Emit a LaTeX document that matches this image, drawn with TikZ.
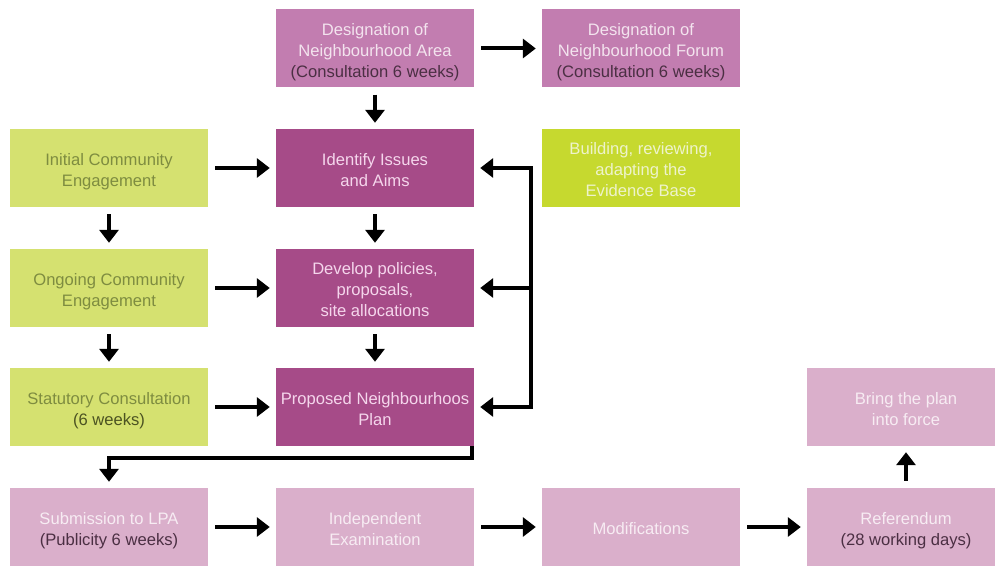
\documentclass[tikz,border=0pt]{standalone}
\usepackage{fontspec}
\setmainfont{Liberation Sans}
\usetikzlibrary{arrows.meta,calc}
\definecolor{pinkmid}{HTML}{C27DB0}
\definecolor{magdark}{HTML}{A64B88}
\definecolor{greenlt}{HTML}{D5E170}
\definecolor{greenbr}{HTML}{C6D92F}
\definecolor{pinklt}{HTML}{DAAFCB}
\definecolor{txtlight}{HTML}{F3E3EE}
\definecolor{txtmag}{HTML}{F5D6EC}
\definecolor{txtgreen}{HTML}{7E8C40}
\definecolor{txtgreendk}{HTML}{4C5322}
\definecolor{txtbuild}{HTML}{EEF3CC}
\definecolor{txtpink}{HTML}{F7ECF3}
\definecolor{txtdark}{HTML}{4B2F43}
\newcommand{\bxt}[1]{\raisebox{-3.5pt}[\height][\depth]{\begin{tabular}{@{}c@{}}#1\end{tabular}}}
\begin{document}
\begin{tikzpicture}[x=1pt,y=-1pt,
  box/.style={rectangle, minimum width=198pt, minimum height=78pt, inner sep=1pt,
    font=\fontsize{16.6}{21}\selectfont},
  bmid/.style={box, fill=pinkmid, text=txtlight},
  bdark/.style={box, fill=magdark, text=txtmag},
  bgreen/.style={box, fill=greenlt, text=txtgreen},
  bbuild/.style={box, fill=greenbr, text=txtbuild},
  bpink/.style={box, fill=pinklt, text=txtpink},
  arr/.style={line width=4pt, -{Triangle[length=13pt,width=19pt]}, shorten <=7pt, shorten >=6pt},
  fbline/.style={line width=4pt},
]
\useasboundingbox (0,0) rectangle (995,569);
\clip (0,0) rectangle (995,569);
% row 0
\node[bmid] (area) at (375,48.5) {\bxt{Designation of\\Neighbourhood Area\\\textcolor{txtdark}{(Consultation 6 weeks)}}};
\node[bmid] (forum) at (641,48.5) {\bxt{Designation of\\Neighbourhood Forum\\\textcolor{txtdark}{(Consultation 6 weeks)}}};
% row 1
\node[bgreen] (initial) at (109,168) {\bxt{Initial Community\\Engagement}};
\node[bdark] (identify) at (375,168) {\bxt{Identify Issues\\and Aims}};
\node[bbuild] (build) at (641,168) {\bxt{Building, reviewing,\\adapting the\\Evidence Base}};
% row 2
\node[bgreen] (ongoing) at (109,288) {\bxt{Ongoing Community\\Engagement}};
\node[bdark] (develop) at (375,288) {\bxt{Develop policies,\\proposals,\\site allocations}};
% row 3
\node[bgreen] (statutory) at (109,407) {\bxt{Statutory Consultation\\\textcolor{txtgreendk}{(6 weeks)}}};
\node[bdark] (proposed) at (375,407) {\bxt{Proposed Neighbourhoos\\Plan}};
\node[bpink] (force) at (906,407) {\bxt{Bring the plan\\into force}};
% row 4
\node[bpink] (submission) at (109,527) {\bxt{Submission to LPA\\\textcolor{txtdark}{(Publicity 6 weeks)}}};
\node[bpink] (exam) at (375,527) {\bxt{Independent\\Examination}};
\node[bpink] (mods) at (641,527) {\bxt{Modifications}};
\node[bpink] (referendum) at (906,527) {\bxt{Referendum\\\textcolor{txtdark}{(28 working days)}}};
% arrows
\draw[arr] (area) -- (forum);
\draw[arr] (area) -- (identify);
\draw[arr] (initial) -- (identify);
\draw[arr] (initial) -- (ongoing);
\draw[arr] (identify) -- (develop);
\draw[arr] (ongoing) -- (develop);
\draw[arr] (ongoing) -- (statutory);
\draw[arr] (develop) -- (proposed);
\draw[arr] (statutory) -- (proposed);
\draw[arr] (submission) -- (exam);
\draw[arr] (exam) -- (mods);
\draw[arr] (mods) -- (referendum);
\draw[arr] (referendum) -- (force);
% feedback bracket
\coordinate (fbA) at ($(identify.east)+(57,0)$);
\coordinate (fbB) at ($(develop.east)+(57,0)$);
\coordinate (fbC) at ($(proposed.east)+(57,0)$);
\draw[fbline] ([yshift=-2pt]fbA) -- ([yshift=2pt]fbC);
\draw[arr, shorten <=0pt] ([xshift=2pt]fbA) -- (identify.east);
\draw[arr, shorten <=0pt] (fbB) -- (develop.east);
\draw[arr, shorten <=0pt] ([xshift=2pt]fbC) -- (proposed.east);
% proposed to submission
\coordinate (pc) at ($(proposed.south east)+(-2,12)$);
\draw[arr, shorten <=0pt] ([xshift=-2pt]proposed.south east) -- (pc) -| (submission.north);
\end{tikzpicture}
\end{document}
